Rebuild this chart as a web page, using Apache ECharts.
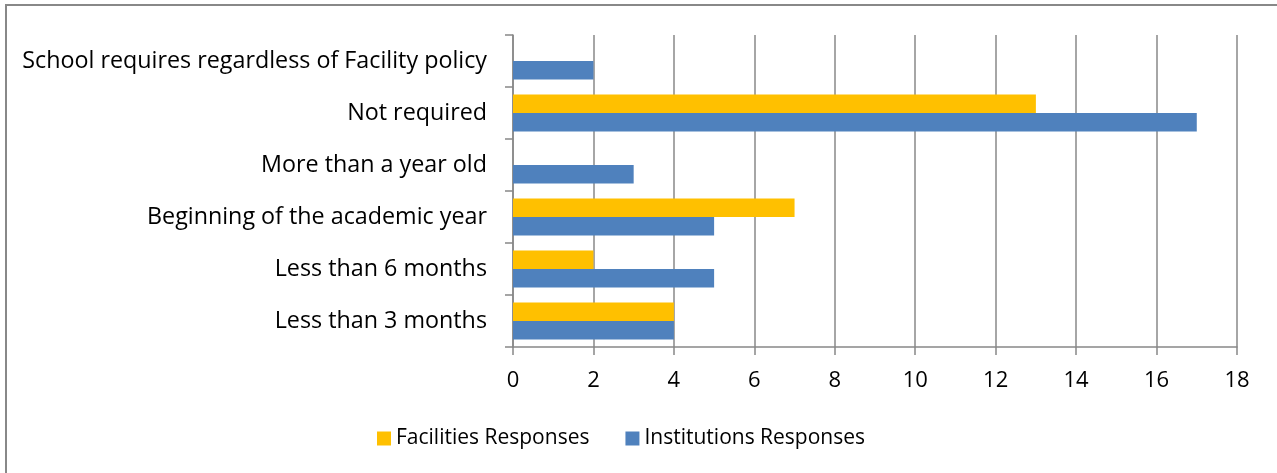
<!DOCTYPE html>
<html><head><meta charset="utf-8">
<script src="https://cdn.jsdelivr.net/npm/echarts@6/dist/echarts.min.js"></script>
<style>html,body{margin:0;padding:0;background:#fff}#c{width:1277px;height:473px}</style>
</head><body><div id="c"></div>
<script>
const categories = ['Less than 3 months','Less than 6 months','Beginning of the academic year','More than a year old','Not required','School requires regardless of Facility policy'];
const facilities = [4, 2, 7, 0, 13, 0];
const institutions = [4, 5, 5, 3, 17, 2];
const seriesNames = ['Facilities Responses','Institutions Responses'];

const chart = echarts.init(document.getElementById('c'), null, {renderer:'canvas'});
const font = 'Open Sans';
const gray = '#888888';
chart.setOption({
  animation:false,
  graphic:[{type:'rect', shape:{x:6,y:5,width:1400,height:700}, style:{fill:null, stroke:gray, lineWidth:2}, silent:true, z:-10}],
  grid:{left:513, right:40, top:35, bottom:126, containLabel:false},
  legend:{
    data:seriesNames, bottom:19, left:372, itemWidth:14, itemHeight:14, itemGap:36,
    icon:'rect', textStyle:{fontFamily:font, fontSize:21, color:'#000'}
  },
  xAxis:{
    type:'value', min:0, max:18, interval:2,
    axisLine:{show:true, lineStyle:{color:gray, width:1.5}},
    axisTick:{show:true, length:8, lineStyle:{color:gray, width:1.5}},
    splitLine:{show:true, lineStyle:{color:gray, width:1.5}},
    axisLabel:{fontFamily:font, fontSize:22, color:'#000', margin:23}
  },
  yAxis:{
    type:'category', data:categories,
    axisLine:{show:true, lineStyle:{color:gray, width:1.5}},
    axisTick:{show:true, length:8, alignWithLabel:false, lineStyle:{color:gray, width:1.5}},
    axisLabel:{fontFamily:font, fontSize:23.3, color:'#000', margin:26}
  },
  series:[
    {name:seriesNames[0], type:'bar', data:facilities, barWidth:18.5, barGap:'0%', itemStyle:{color:'#FFC000'}},
    {name:seriesNames[1], type:'bar', data:institutions, barWidth:18.5, barGap:'0%', itemStyle:{color:'#4F81BD'}}
  ]
});
</script></body></html>
